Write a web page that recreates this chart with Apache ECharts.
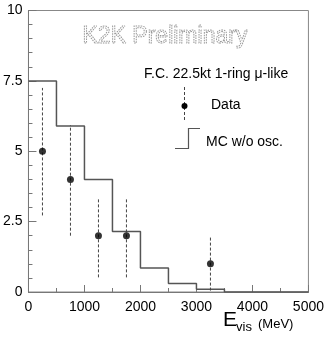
<!DOCTYPE html>
<html>
<head>
<meta charset="utf-8">
<script src="https://cdn.jsdelivr.net/npm/echarts@6/dist/echarts.min.js"></script>
<style>
  html, body { margin: 0; padding: 0; background: #fff; }
  #chart { width: 327px; height: 337px; }
</style>
</head>
<body>
<div id="chart"></div>
<script>
  // MC histogram (bin left edges, content), last point closes the step
  const mcEdges = [0, 500, 1000, 1500, 2000, 2500, 3000, 3500, 5000];
  const mcValues = [7.5, 5.9, 4.0, 2.15, 0.85, 0.3, 0.1, 0, 0];

  // data points
  const dataX = [250, 750, 1250, 1750, 3250];
  const dataY = [5, 4, 2, 2, 1];
  const dataLow = [2.72, 2.0, 0.52, 0.52, 0.05];
  const dataHigh = [7.25, 5.93, 3.36, 3.36, 1.97];

  const yTicks = ['0', '2.5', '5', '7.5', '10'];
  const xTicks = ['0', '1000', '2000', '3000', '4000', '5000'];

  const font = '"Liberation Sans", Arial, sans-serif';
  const axisColor = '#777';

  const chart = echarts.init(document.getElementById('chart'));

  const mcData = mcEdges.map((x, i) => [x, mcValues[i]]);
  const pts = dataX.map((x, i) => [x, dataY[i]]);
  const errs = dataX.map((x, i) => [x, dataLow[i], dataHigh[i]]);

  chart.setOption({
    animation: false,
    grid: {
      left: 28, top: 10.5, right: 16, bottom: 45,
      show: true, borderColor: '#888', borderWidth: 1
    },
    xAxis: {
      type: 'value', min: 0, max: 5000, interval: 1000,
      axisLine: { lineStyle: { color: axisColor } },
      axisTick: { inside: true, length: 7, lineStyle: { color: axisColor } },
      minorTick: { show: true, splitNumber: 2, length: 4, lineStyle: { color: axisColor } },
      splitLine: { show: false },
      axisLabel: {
        color: '#000', fontFamily: font, fontSize: 14, margin: 8,
        formatter: v => xTicks[Math.round(v / 1000)]
      }
    },
    yAxis: {
      type: 'value', min: 0, max: 10, interval: 2.5,
      axisLine: { show: true, lineStyle: { color: axisColor } },
      axisTick: { show: true, inside: true, length: 8, lineStyle: { color: axisColor } },
      minorTick: { show: true, splitNumber: 5, length: 4, lineStyle: { color: axisColor } },
      splitLine: { show: false },
      axisLabel: {
        color: '#000', fontFamily: font, fontSize: 14, margin: 6,
        formatter: v => yTicks[Math.round(v / 2.5)]
      }
    },
    series: [
      {
        type: 'line', step: 'end', data: mcData, symbol: 'none',
        lineStyle: { color: '#555', width: 1.5 }, z: 3
      },
      {
        type: 'custom', data: errs,
        renderItem: (params, api) => {
          const lo = api.coord([api.value(0), api.value(1)]);
          const hi = api.coord([api.value(0), api.value(2)]);
          return {
            type: 'line',
            shape: { x1: lo[0], y1: lo[1], x2: hi[0], y2: hi[1] },
            style: { stroke: '#444', lineWidth: 1, lineDash: [3, 2] }
          };
        },
        z: 4
      },
      {
        type: 'scatter', data: pts, symbol: 'circle', symbolSize: 7,
        itemStyle: { color: '#000' }, z: 5
      }
    ],
    graphic: [
      {
        type: 'text', left: 82, top: 25,
        style: {
          text: 'K2K Preliminary', font: '23px ' + font,
          fill: 'none', stroke: '#999', lineWidth: 1, lineDash: [1.5, 1]
        }
      },
      {
        type: 'text', left: 144, top: 67,
        style: { text: 'F.C. 22.5kt 1-ring μ-like', font: '14px ' + font, fill: '#000' }
      },
      {
        type: 'line', shape: { x1: 184.5, y1: 87, x2: 184.5, y2: 122 },
        style: { stroke: '#444', lineWidth: 1, lineDash: [3, 2] }
      },
      {
        type: 'circle', shape: { cx: 184.5, cy: 106, r: 3 },
        style: { fill: '#000' }
      },
      {
        type: 'text', left: 211, top: 98,
        style: { text: 'Data', font: '14px ' + font, fill: '#000' }
      },
      {
        type: 'polyline',
        shape: { points: [[175, 148.5], [188.5, 148.5], [188.5, 128.5], [200, 128.5]] },
        style: { stroke: '#555', lineWidth: 1.2, fill: 'none' }
      },
      {
        type: 'text', left: 206, top: 135,
        style: { text: 'MC w/o osc.', font: '14px ' + font, fill: '#000' }
      },
      {
        type: 'text', x: 223, y: 320,
        style: { text: 'E', font: '21px ' + font, fill: '#000', verticalAlign: 'middle' }
      },
      {
        type: 'text', x: 236, y: 327,
        style: { text: 'vis', font: '13px ' + font, fill: '#000', verticalAlign: 'middle' }
      },
      {
        type: 'text', x: 258, y: 324,
        style: { text: '(MeV)', font: '13px ' + font, fill: '#000', verticalAlign: 'middle' }
      }
    ]
  });
</script>
</body>
</html>
